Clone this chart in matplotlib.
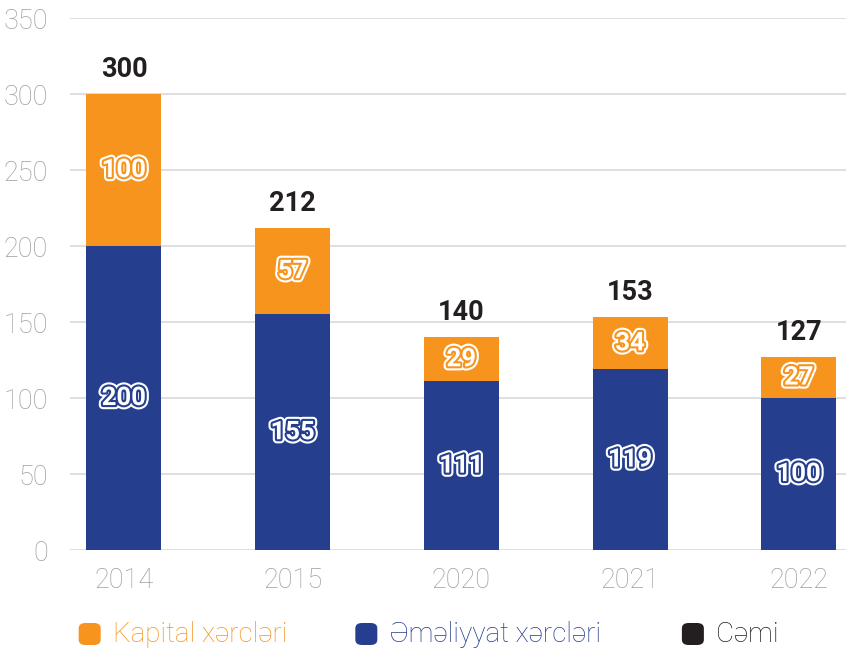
import matplotlib.pyplot as plt
import matplotlib.patheffects as pe
from matplotlib.patches import FancyBboxPatch
import numpy as np

# Data
years = ["2014", "2015", "2020", "2021", "2022"]
kapital = [100, 57, 29, 34, 27]
emeliyyat = [200, 155, 111, 119, 100]
cemi = [300, 212, 140, 153, 127]

ORANGE = "#F7941D"
BLUE = "#253F8E"
BLACK = "#231F20"
GRAY = "#9E9E9E"

plt.rcParams['font.family'] = ['Roboto', 'DejaVu Sans']

fig = plt.figure(figsize=(8.46, 6.53), dpi=100)
ax = fig.add_axes([0.0827, 0.1577, 0.9173, 0.8147])

x = np.arange(len(years))
width = 0.445
ax.bar(x, emeliyyat, width, color=BLUE, zorder=3)
ax.bar(x, kapital, width, bottom=emeliyyat, color=ORANGE, zorder=3)

def inner_label(xv, yv, txt, col):
    ax.text(xv, yv, txt, ha='center', va='center', fontsize=18.5, fontweight='bold',
            color='white', zorder=5,
            path_effects=[pe.Stroke(linewidth=6, foreground='white'),
                          pe.Stroke(linewidth=3, foreground=col),
                          pe.Normal()])

for i in range(len(years)):
    inner_label(x[i], emeliyyat[i] / 2, str(emeliyyat[i]), BLUE)
    inner_label(x[i], emeliyyat[i] + kapital[i] / 2, str(kapital[i]), ORANGE)
    ax.annotate(str(cemi[i]), (x[i], cemi[i]), xytext=(0, 8), textcoords='offset points',
                ha='center', va='bottom', fontsize=19.5, fontweight='bold', color=BLACK)

ax.set_ylim(0, 350)
ax.set_xlim(-0.32, 4.28)
ax.set_yticks(range(0, 351, 50))
ax.set_xticks(x)
ax.set_xticklabels(years)
ax.yaxis.grid(True, color='#D9D9D9', linewidth=1.2, zorder=0)
ax.set_axisbelow(True)
for s in ax.spines.values():
    s.set_visible(False)
ax.tick_params(axis='both', length=0, labelsize=19.5, labelcolor=GRAY)
ax.tick_params(axis='y', pad=16)
ax.tick_params(axis='x', pad=12)
for lbl in ax.get_xticklabels() + ax.get_yticklabels():
    lbl.set_fontweight('light')

# Legend
legend_items = [("Kapital xərcləri", ORANGE, 0.093), ("Əməliyyat xərcləri", BLUE, 0.420), ("Cəmi", BLACK, 0.806)]
W, H = 846, 653
for label, col, xf in legend_items:
    box = FancyBboxPatch((xf, 1 - 645 / H), 22 / W, 22 / H, boxstyle="round,pad=0,rounding_size=0.008",
                         transform=fig.transFigure, facecolor=col, edgecolor='none')
    fig.patches.append(box)
    fig.text(xf + 34 / W, 1 - 634 / H, label, color=col, fontsize=20, fontweight='light',
             ha='left', va='center')

fig.savefig("out.png", dpi=100)
